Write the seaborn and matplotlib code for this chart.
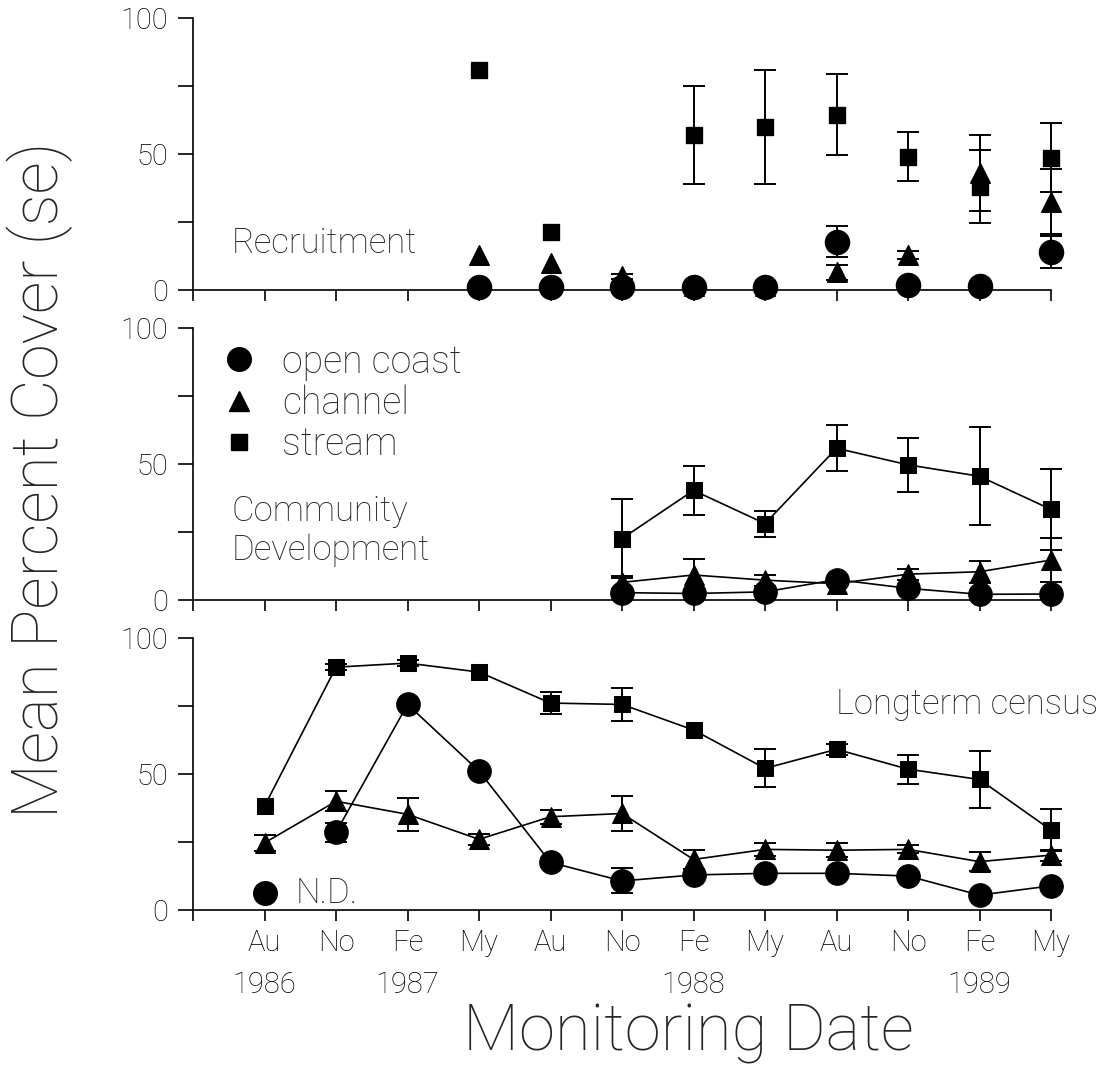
import numpy as np
import pandas as pd
import matplotlib
matplotlib.use("Agg")
import matplotlib.pyplot as plt
from matplotlib.lines import Line2D
import seaborn as sns

# =====================
# Data
# =====================
months = ["Au\n1986", "No", "Fe\n1987", "My", "Au", "No", "Fe\n1988", "My", "Au", "No", "Fe\n1989", "My"]
nan = np.nan

# Recruitment
rec_coast = [nan, nan, nan, 1, 1, 1, 1, 1, 17.8, 2, 1.5, 14]
rec_coast_se = [nan, nan, nan, 0, 0, 0, 0, 0, 5.6, 0, 0, 6]
rec_channel = [nan, nan, nan, 13, 10, 5, 1.5, 1.5, 6.5, 13, 43, 32.5]
rec_channel_se = [nan, nan, nan, 0, 0, 1, 0, 0, 2.8, 1.5, 14, 12]
rec_stream = [nan, nan, nan, 81, 21.5, nan, 57, 60, 64.5, 49, 38, 48.7]
rec_stream_se = [nan, nan, nan, 0, 0, nan, 18, 21, 15, 9, 13.5, 12.6]

# Community development
com_coast = [nan, nan, nan, nan, nan, 2.7, 2.4, 3, 7.5, 4.3, 2.1, 2.2]
com_coast_se = [nan, nan, nan, nan, nan, 0, 0, 0, 0, 0, 0, 0]
com_channel = [nan, nan, nan, nan, nan, 6.5, 9.2, 7.3, 6, 9.5, 10.4, 14.7]
com_channel_se = [nan, nan, nan, nan, nan, 2.5, 6, 2, 0, 2, 4, 8]
com_stream = [nan, nan, nan, nan, nan, 22.6, 40.3, 28.1, 55.8, 49.7, 45.5, 33.3]
com_stream_se = [nan, nan, nan, nan, nan, 14.5, 9, 4.8, 8.5, 10, 18, 15]

# Longterm census
lt_coast = [nan, 28.6, 75.6, 51.1, 17.5, 10.7, 12.9, 13.5, 13.5, 12.5, 5.5, 8.9]
lt_coast_se = [nan, 3.5, 0, 0, 1.5, 4.6, 0, 1, 1.5, 0, 0, 0]
lt_channel = [24.7, 40, 35.2, 26, 34.3, 35.5, 18.6, 22.3, 22, 22.3, 17.8, 20.2]
lt_channel_se = [3, 3.7, 6, 2, 2.5, 6.4, 3.5, 2.5, 2.5, 1.5, 3.5, 2]
lt_stream = [38.2, 89.3, 90.8, 87.5, 76.1, 75.6, 66.2, 52.1, 59.1, 51.8, 48, 29.4]
lt_stream_se = [0, 1, 1, 0, 4, 6, 0, 7, 2, 5.3, 10.6, 7.7]
nd_value = 6.3  # open coast Au 1986 marker labelled N.D.

# =====================
# Style
# =====================
sns.set_theme(style="ticks")
plt.rcParams["font.family"] = ["Roboto", "DejaVu Sans"]
plt.rcParams["font.weight"] = "light"

x = np.arange(len(months))
markers = {"coast": ("o", 17), "channel": ("^", 14), "stream": ("s", 12)}

fig = plt.figure(figsize=(11.1, 10.78), dpi=100)
left, width, height = 0.1739, 0.773, 0.2523
bottoms = [0.7310, 0.4434, 0.1558]
axes = [fig.add_axes([left, b, width, height]) for b in bottoms]


def draw_series(ax, y, se, kind, connect):
    m, ms = markers[kind]
    df = pd.DataFrame({"x": x, "y": y, "se": se}).dropna(subset=["y"])
    eb = df.dropna(subset=["se"])
    eb = eb[eb["se"] > 0]
    ax.errorbar(eb["x"], eb["y"], yerr=eb["se"], fmt="none", ecolor="black",
                elinewidth=1.4, capsize=8, capthick=1.4, clip_on=False, zorder=3)
    if connect:
        sns.lineplot(data=df, x="x", y="y", ax=ax, color="black", lw=1.2,
                     estimator=None, errorbar=None, marker=m, markersize=ms,
                     markeredgecolor="black", markerfacecolor="black",
                     clip_on=False, zorder=4)
    else:
        sns.scatterplot(data=df, x="x", y="y", ax=ax, color="black", marker=m,
                        s=ms ** 2, edgecolor="black", clip_on=False, zorder=4)


panels = [
    [(rec_coast, rec_coast_se, "coast"), (rec_channel, rec_channel_se, "channel"),
     (rec_stream, rec_stream_se, "stream")],
    [(com_coast, com_coast_se, "coast"), (com_channel, com_channel_se, "channel"),
     (com_stream, com_stream_se, "stream")],
    [(lt_coast, lt_coast_se, "coast"), (lt_channel, lt_channel_se, "channel"),
     (lt_stream, lt_stream_se, "stream")],
]

for i, (ax, series) in enumerate(zip(axes, panels)):
    for y, se, kind in series:
        draw_series(ax, y, se, kind, connect=(i > 0))
    ax.set_xlim(-1, 11)
    ax.set_ylim(0, 100)
    ax.set_yticks([0, 50, 100])
    ax.set_yticks([25, 75], minor=True)
    ax.set_xticks(np.arange(-1, 12))
    ax.set_xticklabels([""] + months if i == 2 else [""] * 13)
    ax.tick_params(axis="y", which="both", direction="out", length=11, width=1.2,
                   labelsize=21, pad=7, colors="black")
    ax.tick_params(axis="x", direction="out", length=8, width=1.2, labelsize=21,
                   pad=6, colors="black")
    for lab in ax.get_xticklabels():
        lab.set_linespacing(1.6)
        lab.set_verticalalignment("top")
    ax.set_xlabel("")
    ax.set_ylabel("")
    sns.despine(ax=ax)
    ax.spines["left"].set_linewidth(1.2)
    ax.spines["bottom"].set_linewidth(1.2)
    ax.spines["left"].set_color("black")
    ax.spines["bottom"].set_color("black")
    ax.set_facecolor("white")

# Panel annotations
axes[0].text(-0.455, 17, "Recruitment", fontsize=25, ha="left", va="center")
axes[1].text(-0.455, 25.5, "Community\nDevelopment", fontsize=25, ha="left",
             va="center", linespacing=1.2)
axes[2].text(7.99, 75.5, "Longterm census", fontsize=25, ha="left", va="center")
axes[2].scatter([0], [nd_value], marker="o", s=17 ** 2, color="black",
                clip_on=False, zorder=4)
axes[2].text(0.43, nd_value, "N.D.", fontsize=25, ha="left", va="center")

# Legend in the middle panel
handles = [Line2D([], [], marker=markers[k][0], markersize=markers[k][1], color="black",
                  linestyle="none") for k in ["coast", "channel", "stream"]]
axes[1].legend(handles, ["open coast", "channel", "stream"], loc="upper left",
               bbox_to_anchor=(-0.008, 1.0), frameon=False, fontsize=27,
               handletextpad=0.15, labelspacing=0.1, borderaxespad=0)

fig.text(0.036, 0.555, "Mean Percent Cover (se)", rotation=90, fontsize=46,
         ha="center", va="center")
fig.text(0.62, 0.042, "Monitoring Date", fontsize=47, ha="center", va="center")

fig.savefig("out.png", dpi=100, facecolor="white")
